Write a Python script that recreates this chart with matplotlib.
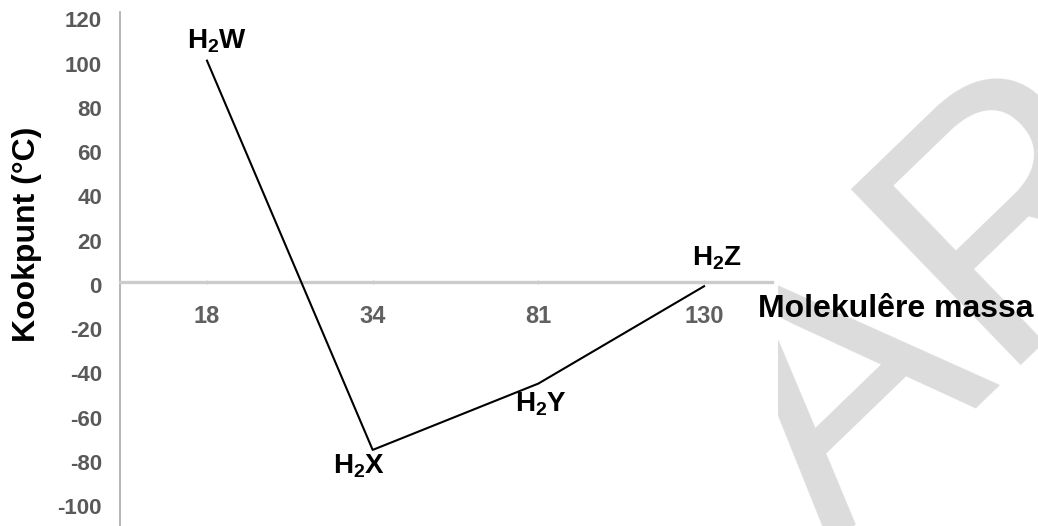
import matplotlib
matplotlib.use("Agg")
import matplotlib.pyplot as plt
from matplotlib.transforms import Bbox, ScaledTranslation, TransformedBbox

plt.rcParams["font.family"] = ["Liberation Sans", "DejaVu Sans"]
plt.rcParams["mathtext.fontset"] = "custom"
plt.rcParams["mathtext.bf"] = "Liberation Sans:bold"
plt.rcParams["mathtext.rm"] = "Liberation Sans"

# data
mass_labels = ["18", "34", "81", "130"]
boiling_points = [100, -76, -46, -2]
point_names = [r"$\mathbf{H_2W}$", r"$\mathbf{H_2X}$", r"$\mathbf{H_2Y}$", r"$\mathbf{H_2Z}$"]
label_offsets = [(7, 14), (-10, -12), (2, -15), (9, 20)]  # points
y_ticks = list(range(-100, 121, 20))

W, H = 1038, 526
fig = plt.figure(figsize=(W / 100, H / 100), dpi=100)
fig.patch.set_facecolor("white")

# watermark behind everything, hidden left of the chart area
wm = fig.text(830 / W, -22 / H, "AR", fontsize=255, color="#dcdcdc", rotation=44,
              rotation_mode="anchor", ha="left", va="baseline", zorder=-5)
wm.set_clip_box(TransformedBbox(Bbox([[778 / W, 0], [1, 1]]), fig.transFigure))
wm.set_clip_on(True)

ax = fig.add_axes([120 / W, 0.0, (772 - 120) / W, (H - 12) / H])
ax.set_facecolor("none")

x = list(range(len(mass_labels)))
ax.plot(x, boiling_points, color="black", lw=1.5, zorder=3)

for xi, yi, name, off in zip(x, boiling_points, point_names, label_offsets):
    ax.annotate(name, (xi, yi), xytext=off, textcoords="offset points",
                ha="center", va="center", fontsize=20, color="black")

ax.set_xlim(-0.525, 3.41)
ax.set_ylim(-110.4, 122)

for side in ("top", "right"):
    ax.spines[side].set_visible(False)
ax.spines["left"].set_color("#b0b0b0")
ax.spines["left"].set_linewidth(1.3)
ax.spines["bottom"].set_position(("data", 0))
ax.spines["bottom"].set_color("#cccccc")
ax.spines["bottom"].set_linewidth(2.4)

ax.set_yticks(y_ticks)
ax.set_yticklabels([str(v) for v in y_ticks])
ax.tick_params(axis="y", length=0, pad=13, labelsize=16, labelcolor="#595959")
nudge = ScaledTranslation(0, -3 / 100, fig.dpi_scale_trans)
for lbl in ax.get_yticklabels():
    lbl.set_fontweight("bold")
    lbl.set_transform(lbl.get_transform() + nudge)

ax.set_xticks(x)
ax.set_xticklabels(mass_labels)
ax.tick_params(axis="x", length=3, color="#d0d0d0", direction="inout",
               pad=15, labelsize=17, labelcolor="#606060")
for lbl in ax.get_xticklabels():
    lbl.set_fontweight("bold")

fig.text(758 / W, (H - 317) / H, "Molekulêre massa", fontsize=23,
         fontweight="bold", ha="left", va="baseline", color="black")
fig.text(27 / W, (H - 234) / H, "Kookpunt (°C)", fontsize=23, fontweight="bold",
         rotation=90, ha="center", va="center", color="black")

fig.savefig("out.png", dpi=100)
